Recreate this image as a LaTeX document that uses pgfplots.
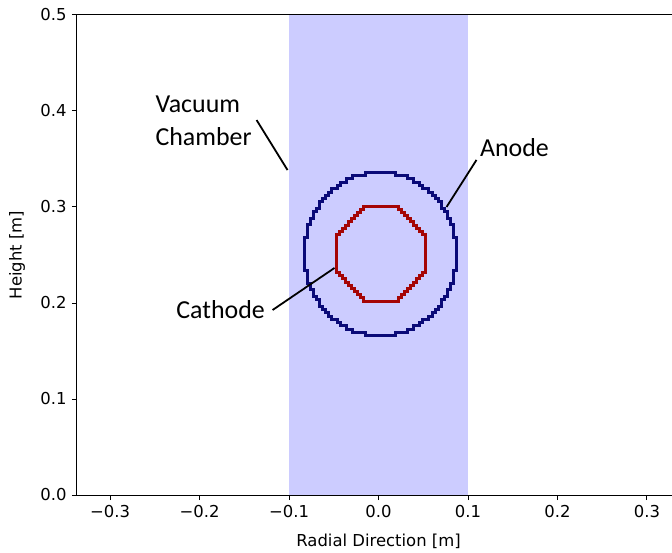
\documentclass[border=0pt]{standalone}
\usepackage{pgfplots}
\pgfplotsset{compat=1.18}
\usepackage{fontspec}
\setmainfont{DejaVu Sans}
\newfontfamily\carlito{Carlito}

\definecolor{band}{RGB}{204,204,255}
\definecolor{anode}{RGB}{10,10,120}
\definecolor{cathode}{RGB}{165,5,5}

\begin{document}
\begin{tikzpicture}
\begin{axis}[
    name=ax,
    scale only axis,
    width=595bp, height=480bp,
    xmin=-0.337, xmax=0.328,
    ymin=0, ymax=0.5,
    axis x line*=box, axis y line*=left,
    axis on top,
    tick pos=left,
    tick align=outside,
    major tick length=5bp,
    axis line style={line width=1bp},
    every tick/.style={line width=1bp, black},
    xtick={-0.3,-0.2,-0.1,0,0.1,0.2,0.3},
    xticklabels={−0.3,−0.2,−0.1,0.0,0.1,0.2,0.3},
    ytick={0,0.1,0.2,0.3,0.4,0.5},
    yticklabels={0.0,0.1,0.2,0.3,0.4,0.5},
    ticklabel style={font=\fontsize{16.5}{19}\selectfont},
    xticklabel shift=2bp,
    yticklabel shift=2bp,
    xlabel={Radial Direction [m]},
    ylabel={Height [m]},
    label style={font=\fontsize{16.5}{19}\selectfont},
    xlabel style={at={(axis description cs:0.5068,0)}, anchor=base, yshift=-51bp},
    ylabel style={at={(axis description cs:-0.1008,0.5)}, anchor=center},
]
% vacuum chamber region
\addplot[draw=none, fill=band] coordinates {(-0.1,0) (-0.1,0.5) (0.1,0.5) (0.1,0)} -- cycle;

% anode (stair-stepped contour)
\addplot[draw=anode, line width=3bp] coordinates {
(0.0190,0.3360)(0.0190,0.3326)(0.0326,0.3326)(0.0326,0.3292)(0.0394,0.3292)(0.0394,0.3258)
(0.0462,0.3258)(0.0462,0.3224)(0.0496,0.3224)(0.0496,0.3190)(0.0564,0.3190)(0.0564,0.3156)
(0.0598,0.3156)(0.0598,0.3122)(0.0632,0.3122)(0.0632,0.3088)(0.0666,0.3088)(0.0666,0.3054)
(0.0700,0.3054)(0.0700,0.2986)(0.0734,0.2986)(0.0734,0.2952)(0.0768,0.2952)(0.0768,0.2884)
(0.0802,0.2884)(0.0802,0.2816)(0.0836,0.2816)(0.0836,0.2680)(0.0870,0.2680)
(0.0870,0.2340)(0.0836,0.2340)(0.0836,0.2204)(0.0802,0.2204)(0.0802,0.2136)(0.0768,0.2136)
(0.0768,0.2068)(0.0734,0.2068)(0.0734,0.2034)(0.0700,0.2034)(0.0700,0.1966)(0.0666,0.1966)
(0.0666,0.1932)(0.0632,0.1932)(0.0632,0.1898)(0.0598,0.1898)(0.0598,0.1864)(0.0564,0.1864)
(0.0564,0.1830)(0.0496,0.1830)(0.0496,0.1796)(0.0462,0.1796)(0.0462,0.1762)(0.0394,0.1762)
(0.0394,0.1728)(0.0326,0.1728)(0.0326,0.1694)(0.0190,0.1694)(0.0190,0.1660)
(-0.0150,0.1660)(-0.0150,0.1694)(-0.0286,0.1694)(-0.0286,0.1728)(-0.0354,0.1728)(-0.0354,0.1762)
(-0.0422,0.1762)(-0.0422,0.1796)(-0.0456,0.1796)(-0.0456,0.1830)(-0.0524,0.1830)(-0.0524,0.1864)
(-0.0558,0.1864)(-0.0558,0.1898)(-0.0592,0.1898)(-0.0592,0.1932)(-0.0626,0.1932)(-0.0626,0.1966)
(-0.0660,0.1966)(-0.0660,0.2034)(-0.0694,0.2034)(-0.0694,0.2068)(-0.0728,0.2068)(-0.0728,0.2136)
(-0.0762,0.2136)(-0.0762,0.2204)(-0.0796,0.2204)(-0.0796,0.2340)(-0.0830,0.2340)
(-0.0830,0.2680)(-0.0796,0.2680)(-0.0796,0.2816)(-0.0762,0.2816)(-0.0762,0.2884)(-0.0728,0.2884)
(-0.0728,0.2952)(-0.0694,0.2952)(-0.0694,0.2986)(-0.0660,0.2986)(-0.0660,0.3054)(-0.0626,0.3054)
(-0.0626,0.3088)(-0.0592,0.3088)(-0.0592,0.3122)(-0.0558,0.3122)(-0.0558,0.3156)(-0.0524,0.3156)
(-0.0524,0.3190)(-0.0456,0.3190)(-0.0456,0.3224)(-0.0422,0.3224)(-0.0422,0.3258)(-0.0354,0.3258)
(-0.0354,0.3292)(-0.0286,0.3292)(-0.0286,0.3326)(-0.0150,0.3326)(-0.0150,0.3360)
} -- cycle;

% cathode (stair-stepped contour)
\addplot[draw=cathode, line width=3bp] coordinates {
(0.0228,0.3010)(0.0228,0.2977)(0.0261,0.2977)(0.0261,0.2944)(0.0294,0.2944)(0.0294,0.2911)
(0.0327,0.2911)(0.0327,0.2878)(0.0360,0.2878)(0.0360,0.2845)(0.0393,0.2845)(0.0393,0.2812)
(0.0426,0.2812)(0.0426,0.2779)(0.0459,0.2779)(0.0459,0.2746)(0.0492,0.2746)(0.0492,0.2713)
(0.0525,0.2713)
(0.0525,0.2317)(0.0492,0.2317)(0.0492,0.2284)(0.0459,0.2284)(0.0459,0.2251)(0.0426,0.2251)
(0.0426,0.2218)(0.0393,0.2218)(0.0393,0.2185)(0.0360,0.2185)(0.0360,0.2152)(0.0327,0.2152)
(0.0327,0.2119)(0.0294,0.2119)(0.0294,0.2086)(0.0261,0.2086)(0.0261,0.2053)(0.0228,0.2053)
(0.0228,0.2020)
(-0.0168,0.2020)(-0.0168,0.2053)(-0.0201,0.2053)(-0.0201,0.2086)(-0.0234,0.2086)(-0.0234,0.2119)
(-0.0267,0.2119)(-0.0267,0.2152)(-0.0300,0.2152)(-0.0300,0.2185)(-0.0333,0.2185)(-0.0333,0.2218)
(-0.0366,0.2218)(-0.0366,0.2251)(-0.0399,0.2251)(-0.0399,0.2284)(-0.0432,0.2284)(-0.0432,0.2317)
(-0.0465,0.2317)
(-0.0465,0.2713)(-0.0432,0.2713)(-0.0432,0.2746)(-0.0399,0.2746)(-0.0399,0.2779)(-0.0366,0.2779)
(-0.0366,0.2812)(-0.0333,0.2812)(-0.0333,0.2845)(-0.0300,0.2845)(-0.0300,0.2878)(-0.0267,0.2878)
(-0.0267,0.2911)(-0.0234,0.2911)(-0.0234,0.2944)(-0.0201,0.2944)(-0.0201,0.2977)(-0.0168,0.2977)
(-0.0168,0.3010)
} -- cycle;

% annotations
\draw[line width=1.8bp] (axis cs:-0.1363,0.3906) -- (axis cs:-0.1017,0.3385);
\node[font=\carlito\fontsize{26}{33}\selectfont, align=left] at (axis cs:-0.1955,0.3896) {Vacuum\\Chamber};
\draw[line width=1.8bp] (axis cs:0.1095,0.3490) -- (axis cs:0.0760,0.3000);
\node[font=\carlito\fontsize{26}{30}\selectfont] at (axis cs:0.152,0.3615) {Anode};
\draw[line width=1.8bp] (axis cs:-0.1184,0.1927) -- (axis cs:-0.0492,0.2365);
\node[font=\carlito\fontsize{26}{30}\selectfont] at (axis cs:-0.1765,0.1927) {Cathode};
\end{axis}
\pgfresetboundingbox
\path ([xshift=-77bp,yshift=-58bp]ax.south west) rectangle ([yshift=15bp]ax.north east);
\end{tikzpicture}
\end{document}
